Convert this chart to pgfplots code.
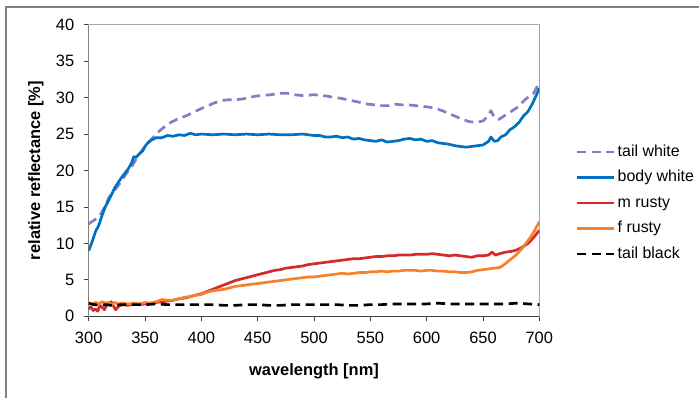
\documentclass[border=0pt]{standalone}
\usepackage{fontspec}
\setmainfont{Liberation Sans}
\usepackage{pgfplots}
\pgfplotsset{compat=1.18}
\definecolor{cTW}{HTML}{7F7FC8}
\definecolor{cBW}{HTML}{0070C0}
\definecolor{cMR}{HTML}{D42A2A}
\definecolor{cFR}{HTML}{F7802A}
\definecolor{frame}{HTML}{808080}
\begin{document}
\begin{tikzpicture}[x=1bp,y=1bp]
\useasboundingbox (0,0) rectangle (699,397);
\draw[frame, line width=1.6bp] (6,-3) -- (6,390) -- (702,390);
\begin{axis}[
  at={(88.7bp,80.7bp)}, anchor=south west,
  scale only axis, width=450.6bp, height=291.6bp,
  xmin=300, xmax=700, ymin=0, ymax=40,
  xtick={300,350,...,700}, ytick={0,5,...,40},
  tick align=outside, xtick pos=lower, ytick pos=left,
  major tick length=5bp,
  tick style={black!75, line width=0.8bp},
  axis line style={gray!70, line width=0.8bp},
  tick label style={font=\fontsize{16.5}{19}\selectfont},
  xticklabel style={yshift=-7bp},
  yticklabel style={xshift=-6bp},
  /pgf/number format/assume math mode=true,
  xlabel={\textbf{wavelength  [nm]}},
  ylabel={\textbf{relative reflectance  [\%]}},
  label style={font=\fontsize{16.5}{19}\selectfont},
  xlabel style={at={(axis description cs:0.5,-0.19)}, anchor=center},
  ylabel style={at={(axis description cs:-0.117,0.5)}, anchor=center},
  legend style={draw=none, fill=none, inner sep=0pt, outer sep=0pt,
    at={(axis description cs:1.0815,0.595)}, anchor=north west,
    font=\fontsize{16}{19}\selectfont,
    nodes={inner sep=2bp, text height=11.5bp, text depth=3bp},
    row sep=7bp},
  legend cell align=left,
  legend image code/.code={\draw[#1] (0bp,0bp) -- (37bp,0bp);},
  every axis plot/.append style={line width=2.7bp, line join=round},
]
\addplot[cTW, dash pattern=on 9bp off 5.5bp] coordinates {
(300,12.7)(305,13.2)(310,13.8)(314,15.0)(318,16.3)(323,17.3)(328,18.3)(333,19.5)(338,20.5)(343,21.8)(348,22.9)(353,23.8)(357,24.5)(362,25.3)(368,26.1)(373,26.6)(378,27.0)(383,27.3)(388,27.6)(393,28.0)(400,28.5)(406,28.9)(412,29.3)(418,29.6)(424,29.7)(430,29.7)(436,29.8)(442,30.0)(448,30.2)(455,30.3)(462,30.4)(470,30.6)(476,30.6)(482,30.4)(488,30.3)(494,30.3)(500,30.4)(506,30.3)(512,30.2)(518,30.0)(524,29.9)(530,29.7)(536,29.5)(542,29.3)(548,29.1)(554,29.0)(560,28.9)(566,28.9)(572,29.1)(578,29.0)(584,29.0)(590,28.9)(596,28.8)(602,28.7)(608,28.5)(614,28.2)(620,27.8)(626,27.4)(632,27.0)(638,26.7)(644,26.6)(650,26.8)(654,27.4)(657,28.2)(660,27.3)(664,27.0)(668,27.4)(672,27.8)(676,28.2)(680,28.6)(684,29.2)(688,29.8)(692,30.3)(695,30.6)(698,31.5)(700,32.3)};
\addlegendentry{tail white}
\addplot[cBW] coordinates {
(300,9.0)(303,10.2)(306,11.6)(309,12.5)(312,13.9)(315,15.1)(318,16.0)(320,16.6)(323,17.6)(326,18.3)(329,19.0)(332,19.6)(335,20.2)(338,21.0)(340,21.9)(342,21.8)(345,22.3)(348,22.7)(350,23.3)(353,23.9)(356,24.2)(360,24.5)(365,24.5)(370,24.8)(375,24.7)(380,24.9)(385,24.8)(390,25.1)(395,24.9)(400,25.0)(410,24.9)(420,25.0)(430,24.9)(440,25.0)(450,24.9)(460,25.0)(470,24.9)(480,24.9)(490,25.0)(500,24.8)(505,24.8)(510,24.6)(515,24.6)(520,24.7)(525,24.5)(530,24.6)(535,24.3)(540,24.4)(545,24.2)(550,24.1)(555,24.0)(560,24.2)(565,23.9)(570,24.0)(575,24.1)(580,24.3)(585,24.4)(590,24.2)(595,24.3)(600,24.0)(605,24.1)(610,23.8)(615,23.7)(620,23.6)(625,23.4)(630,23.3)(635,23.2)(640,23.3)(645,23.4)(650,23.5)(655,24.0)(657,24.6)(660,24.0)(663,24.1)(666,24.6)(670,24.9)(674,25.6)(678,26.0)(682,26.6)(686,27.5)(690,28.1)(694,29.2)(697,30.2)(700,31.3)};
\addlegendentry{body white}
\addplot[cMR] coordinates {
(300,1.0)(302,1.3)(304,0.8)(306,1.0)(308,0.7)(310,1.5)(312,1.2)(314,0.9)(316,1.6)(318,1.8)(320,2.0)(322,1.4)(324,0.9)(326,1.3)(328,1.5)(330,1.6)(335,1.5)(340,1.7)(345,1.6)(350,1.7)(355,1.8)(360,1.9)(365,2.0)(370,2.1)(375,2.2)(380,2.4)(385,2.5)(390,2.7)(395,2.9)(400,3.1)(405,3.4)(410,3.7)(415,4.0)(420,4.3)(425,4.6)(430,4.9)(435,5.1)(440,5.3)(445,5.5)(450,5.7)(455,5.9)(460,6.1)(465,6.3)(470,6.4)(475,6.6)(480,6.7)(485,6.8)(490,6.9)(495,7.1)(500,7.2)(505,7.3)(510,7.4)(515,7.5)(520,7.6)(525,7.7)(530,7.8)(535,7.9)(540,7.9)(545,8.0)(550,8.1)(555,8.2)(560,8.2)(565,8.3)(570,8.3)(575,8.4)(580,8.4)(585,8.4)(590,8.5)(595,8.5)(600,8.5)(605,8.6)(610,8.5)(615,8.4)(620,8.3)(625,8.4)(630,8.3)(635,8.2)(640,8.1)(645,8.3)(650,8.3)(655,8.4)(658,8.8)(661,8.4)(665,8.6)(670,8.8)(675,8.9)(680,9.1)(685,9.5)(690,10.0)(695,10.8)(700,11.8)};
\addlegendentry{m rusty}
\addplot[cFR] coordinates {
(300,1.8)(303,1.6)(306,1.9)(309,1.7)(312,2.0)(315,1.8)(318,1.9)(320,1.6)(323,1.9)(326,1.7)(330,1.8)(335,1.7)(340,1.8)(345,1.7)(350,1.9)(355,1.8)(360,2.0)(365,2.3)(370,2.2)(375,2.2)(380,2.4)(385,2.6)(390,2.7)(395,2.9)(400,3.0)(405,3.3)(410,3.5)(415,3.6)(420,3.7)(425,3.9)(430,4.1)(435,4.2)(440,4.3)(445,4.4)(450,4.5)(455,4.6)(460,4.7)(465,4.8)(470,4.9)(475,5.0)(480,5.1)(485,5.2)(490,5.3)(495,5.4)(500,5.4)(505,5.5)(510,5.6)(515,5.7)(520,5.8)(525,5.9)(530,5.8)(535,5.9)(540,6.0)(545,6.0)(550,6.1)(555,6.1)(560,6.2)(565,6.1)(570,6.2)(575,6.2)(580,6.3)(585,6.3)(590,6.3)(595,6.2)(600,6.3)(605,6.3)(610,6.2)(615,6.2)(620,6.1)(625,6.1)(630,6.0)(635,6.0)(640,6.1)(645,6.3)(650,6.4)(655,6.5)(660,6.6)(665,6.7)(668,7.0)(672,7.5)(676,8.0)(680,8.5)(684,9.2)(688,10.0)(692,10.8)(696,11.8)(700,13.0)};
\addlegendentry{f rusty}
\addplot[black, dash pattern=on 9bp off 5.5bp] coordinates {
(300,1.8)(305,1.6)(310,1.5)(315,1.6)(320,1.5)(330,1.6)(340,1.6)(350,1.6)(360,1.7)(370,1.6)(380,1.6)(390,1.6)(400,1.6)(410,1.6)(420,1.5)(430,1.5)(440,1.6)(450,1.6)(460,1.5)(470,1.5)(480,1.6)(490,1.6)(500,1.6)(510,1.6)(520,1.6)(530,1.5)(540,1.5)(550,1.6)(560,1.6)(570,1.7)(580,1.7)(590,1.7)(600,1.7)(610,1.8)(620,1.7)(630,1.7)(640,1.7)(650,1.7)(660,1.7)(670,1.7)(680,1.8)(690,1.7)(700,1.6)};
\addlegendentry{tail black}
\draw[black!75, line width=0.8bp] (rel axis cs:0,1) -- (rel axis cs:0,0) -- (rel axis cs:1,0);
\end{axis}
\end{tikzpicture}
\end{document}
